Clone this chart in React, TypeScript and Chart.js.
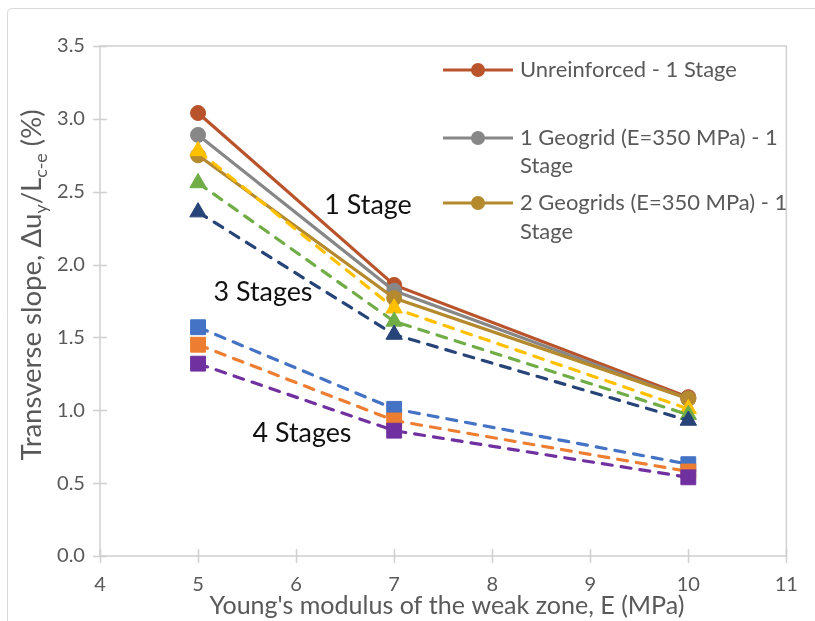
import React, { useEffect, useRef } from "react";
import { Chart, registerables } from "chart.js";

Chart.register(...registerables);

// ---------- data ----------
const modulusE = [5, 7, 10];

const unreinforced1 = [3.04, 1.86, 1.09];
const geogrid1_1 = [2.89, 1.82, 1.08];
const geogrid2_1 = [2.75, 1.77, 1.08];

const stage3A = [2.78, 1.7, 1.01];
const stage3B = [2.56, 1.61, 0.97];
const stage3C = [2.36, 1.52, 0.93];

const stage4A = [1.57, 1.01, 0.63];
const stage4B = [1.45, 0.93, 0.58];
const stage4C = [1.32, 0.86, 0.54];

const legendLabels = [
  "Unreinforced - 1 Stage",
  "1 Geogrid (E=350 MPa) - 1 Stage",
  "2 Geogrids (E=350 MPa) - 1 Stage",
];
const legendLines = [
  ["Unreinforced - 1 Stage"],
  ["1 Geogrid (E=350 MPa) - 1", "Stage"],
  ["2 Geogrids (E=350 MPa) - 1", "Stage"],
];

const annotations = [
  { text: "1 Stage", x: 368, y: 205 },
  { text: "3 Stages", x: 263, y: 292 },
  { text: "4 Stages", x: 302, y: 433 },
];

const xTitle = "Young's modulus of the weak zone, E (MPa)";
const yTitleParts: [string, boolean][] = [
  ["Transverse slope, \u0394u", false],
  ["y", true],
  ["/L", false],
  ["c-e", true],
  [" (%)", false],
];

const FONT = "Lato, 'Open Sans', sans-serif";
const TEXT = "#595959";
const AXIS = "#d0d0d0";

function fitSize(text: string, target: number): number {
  const c = document.createElement("canvas").getContext("2d")!;
  c.font = `100px ${FONT}`;
  const w = c.measureText(text).width;
  return (100 * target) / w;
}

export default function App() {
  const ref = useRef<HTMLCanvasElement | null>(null);

  useEffect(() => {
    const canvas = ref.current!;
    const tickSize = fitSize("3.5", 28);
    const legendSize = fitSize(legendLines[0][0], 217);
    const annSize = fitSize("4 Stages", 99);
    const xTitleSize = fitSize(xTitle, 475);
    const yTitleSize = xTitleSize * 1.1;

    const solid = (label: string, data: number[], color: string, order: number) => ({
      label,
      data: modulusE.map((x, i) => ({ x, y: data[i] })),
      borderColor: color,
      backgroundColor: color,
      borderWidth: 3.2,
      pointStyle: "circle",
      pointRadius: 7.5,
      pointBorderWidth: 1,
      pointBackgroundColor: color,
      pointBorderColor: color,
      order,
    });
    const dashed = (
      label: string,
      data: number[],
      color: string,
      style: string,
      radius: number,
      order: number
    ) => ({
      label,
      data: modulusE.map((x, i) => ({ x, y: data[i] })),
      borderColor: color,
      backgroundColor: color,
      borderWidth: 3.2,
      borderDash: [10, 9],
      borderCapStyle: "round",
      pointStyle: style,
      pointRadius: radius,
      pointBorderWidth: 1,
      pointBackgroundColor: color,
      pointBorderColor: color,
      order,
    });

    const overlay = {
      id: "overlay",
      beforeDraw(chart: any) {
        const ctx = chart.ctx;
        ctx.save();
        ctx.fillStyle = "#fff";
        ctx.fillRect(0, 0, chart.width, chart.height);
        ctx.strokeStyle = "#d9d9d9";
        ctx.lineWidth = 1;
        ctx.beginPath();
        ctx.roundRect(7.5, 8.5, 840, 650, 4);
        ctx.stroke();
        ctx.restore();
      },
      beforeDatasetsDraw(chart: any) {
        const ctx = chart.ctx;
        const a = chart.chartArea;
        const xs = chart.scales.x;
        const ys = chart.scales.y;
        ctx.save();
        ctx.strokeStyle = AXIS;
        ctx.lineWidth = 1.5;
        ctx.beginPath();
        ctx.rect(a.left, a.top, a.right - a.left, a.bottom - a.top);
        ctx.stroke();
        ctx.beginPath();
        ys.ticks.forEach((t: any) => {
          const py = Math.round(ys.getPixelForValue(t.value)) + 0.5;
          ctx.moveTo(a.left - 7, py);
          ctx.lineTo(a.left + 7, py);
        });
        xs.ticks.forEach((t: any) => {
          const px = Math.round(xs.getPixelForValue(t.value)) + 0.5;
          ctx.moveTo(px, a.bottom - 7);
          ctx.lineTo(px, a.bottom + 7);
        });
        ctx.stroke();
        ctx.restore();
      },
      afterDraw(chart: any) {
        const ctx = chart.ctx;
        ctx.save();
        ctx.fillStyle = "#111";
        ctx.textAlign = "center";
        ctx.textBaseline = "middle";
        ctx.font = `${annSize}px ${FONT}`;
        annotations.forEach((an) => ctx.fillText(an.text, an.x, an.y));

        const items = [
          { color: chart.data.datasets[0].borderColor, ys: [70] },
          { color: chart.data.datasets[1].borderColor, ys: [138, 166] },
          { color: chart.data.datasets[2].borderColor, ys: [203, 232] },
        ];
        ctx.font = `${legendSize}px ${FONT}`;
        ctx.textAlign = "left";
        items.forEach((it, i) => {
          const y0 = it.ys[0];
          ctx.strokeStyle = it.color;
          ctx.lineWidth = 3.2;
          ctx.beginPath();
          ctx.moveTo(443, y0);
          ctx.lineTo(513, y0);
          ctx.stroke();
          ctx.fillStyle = it.color;
          ctx.beginPath();
          ctx.arc(478, y0, 7, 0, Math.PI * 2);
          ctx.fill();
          ctx.fillStyle = TEXT;
          legendLines[i].forEach((ln, j) => ctx.fillText(ln, 520, it.ys[j]));
        });

        ctx.fillStyle = TEXT;
        ctx.textAlign = "center";
        ctx.font = `${xTitleSize}px ${FONT}`;
        ctx.fillText(xTitle, 447, 606);

        const main = yTitleSize;
        const sub = main * 0.65;
        const widths = yTitleParts.map(([t, s]) => {
          ctx.font = `${s ? sub : main}px ${FONT}`;
          return ctx.measureText(t).width;
        });
        const total = widths.reduce((p, c) => p + c, 0);
        ctx.translate(32, 285);
        ctx.rotate(-Math.PI / 2);
        ctx.textAlign = "left";
        ctx.textBaseline = "middle";
        let cx = -total / 2;
        yTitleParts.forEach(([t, s], i) => {
          ctx.font = `${s ? sub : main}px ${FONT}`;
          ctx.fillText(t, cx, s ? main * 0.32 : 0);
          cx += widths[i];
        });
        ctx.restore();
      },
    };

    const chart = new Chart(canvas, {
      type: "line",
      data: {
        datasets: [
          solid(legendLabels[0], unreinforced1, "#B9532B", 30),
          solid(legendLabels[1], geogrid1_1, "#878787", 29),
          solid(legendLabels[2], geogrid2_1, "#B5892E", 28),
          dashed("3 Stages A", stage3A, "#FFC000", "triangle", 9.5, 27),
          dashed("3 Stages B", stage3B, "#70AD47", "triangle", 9.5, 26),
          dashed("3 Stages C", stage3C, "#264478", "triangle", 9.5, 25),
          dashed("4 Stages A", stage4A, "#4472C4", "rect", 10.5, 24),
          dashed("4 Stages B", stage4B, "#ED7D31", "rect", 10.5, 23),
          dashed("4 Stages C", stage4C, "#7030A0", "rect", 10.5, 22),
        ] as any,
      },
      options: {
        animation: false,
        responsive: false,
        events: [],
        layout: { padding: { top: 46, right: 28, left: 0, bottom: 0 } },
        plugins: { legend: { display: false }, tooltip: { enabled: false } },
        scales: {
          x: {
            type: "linear",
            min: 4,
            max: 11,
            grid: { display: false, drawTicks: false },
            border: { display: false },
            ticks: {
              stepSize: 1,
              color: TEXT,
              font: { family: FONT, size: tickSize },
              padding: 17,
            },
            afterFit: (s: any) => {
              s.height = 65;
            },
          },
          y: {
            type: "linear",
            min: 0,
            max: 3.5,
            grid: { display: false, drawTicks: false },
            border: { display: false },
            ticks: {
              stepSize: 0.5,
              color: TEXT,
              font: { family: FONT, size: tickSize },
              padding: 15,
              callback: (v: any) => Number(v).toFixed(1),
            },
            afterFit: (s: any) => {
              s.width = 100;
            },
          },
        },
      } as any,
      plugins: [overlay],
    });
    return () => chart.destroy();
  }, []);

  return (
    <div style={{ position: "absolute", left: 0, top: 0, width: 815, height: 621 }}>
      <canvas ref={ref} width={815} height={621} style={{ display: "block" }} />
    </div>
  );
}
